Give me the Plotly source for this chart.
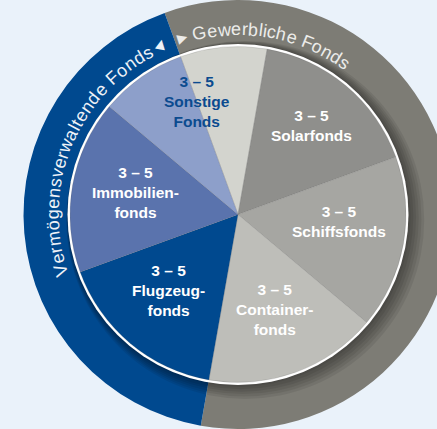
import math
import plotly.graph_objects as go

# ---------------- data ----------------
segmente = ["Sonstige Fonds (gewerblich)", "Solarfonds", "Schiffsfonds", "Containerfonds",
            "Flugzeugfonds", "Immobilienfonds", "Sonstige Fonds (vermögensverwaltend)"]
anteile = [1, 2, 2, 2, 2, 2, 1]
gruppen = ["Gewerbliche Fonds", "Gewerbliche Fonds", "Gewerbliche Fonds", "Gewerbliche Fonds",
           "Vermögensverwaltende Fonds", "Vermögensverwaltende Fonds", "Vermögensverwaltende Fonds"]
ring_kategorien = ["Gewerbliche Fonds", "Vermögensverwaltende Fonds"]
ring_werte = [sum(a for a, g in zip(anteile, gruppen) if g == k) for k in ring_kategorien]

laufzeit = "3 – 5"
label_namen = ["Sonstige<br>Fonds", "Solarfonds", "Schiffsfonds", "Container-<br>fonds",
               "Flugzeug-<br>fonds", "Immobilien-<br>fonds"]

# ---------------- style ----------------
W, H = 476, 429
CX, CY = 238, 214.5
R_RING = 214.5
R_WHITE = 170.5
R_PIE = 168
START = -20  # degrees clockwise from 12 o'clock

seg_farben = ["#d3d4ce", "#8f8f8c", "#a6a6a2", "#bebeb9", "#00498f", "#5a73ad", "#8d9fca"]
ring_farben = ["#7d7c75", "#00498f"]
BG = "#eaf2fa"


def dom(cx, cy, r):
    return dict(x=[(cx - r) / W, (cx + r) / W], y=[1 - (cy + r) / H, 1 - (cy - r) / H])


def to_paper(theta, r):
    t = math.radians(theta)
    sx = CX + r * math.sin(t)
    sy = CY - r * math.cos(t)
    return sx / W, 1 - sy / H


fig = go.Figure()

# outer ring
fig.add_trace(go.Pie(values=ring_werte, labels=ring_kategorien, sort=False, direction="clockwise",
                     rotation=START, hole=0.74, marker=dict(colors=ring_farben),
                     textinfo="none", hoverinfo="skip", domain=dom(CX, CY, R_RING)))

# soft shadow of the inner disc (toward bottom-right)
for k in [1.5, 3, 4.5, 6, 7.5, 9]:
    fig.add_trace(go.Pie(values=[1], labels=["s"], sort=False, marker=dict(colors=["rgba(0,0,0,0.075)"]),
                         textinfo="none", hoverinfo="skip",
                         domain=dom(CX + 0.8 * k, CY + 0.6 * k, R_WHITE + k - 0.5)))

# white rim
fig.add_trace(go.Pie(values=[1], labels=["w"], sort=False, marker=dict(colors=["#ffffff"]),
                     textinfo="none", hoverinfo="skip", domain=dom(CX, CY, R_WHITE)))

# inner pie
fig.add_trace(go.Pie(values=anteile, labels=segmente, sort=False, direction="clockwise",
                     rotation=START, marker=dict(colors=seg_farben,
                                                 line=dict(color="rgba(80,80,80,0.25)", width=0.7)),
                     textinfo="none", hoverinfo="skip", domain=dom(CX, CY, R_PIE)))

# ---------------- slice labels ----------------
total = sum(anteile)
bounds = [START]
for a in anteile:
    bounds.append(bounds[-1] + 360 * a / total)
mids = [(bounds[i] + bounds[i + 1]) / 2 for i in range(len(anteile))]
# label angles: Sonstige label sits on the split of its two halves
label_winkel = [bounds[0], mids[1], mids[2], mids[3], mids[4], mids[5]]
label_off = [0.1, -0.4, -5.8, -1.2, 2.8, 2.3]
label_r = [120.7, 116, 101.3, 102.4, 103, 105.4]
label_col = ["#0b4b8f", "white", "white", "white", "white", "white"]

for name, ang, off, r, col in zip(label_namen, label_winkel, label_off, label_r, label_col):
    x, y = to_paper(ang + off, r)
    fig.add_annotation(x=x, y=y, xref="paper", yref="paper", showarrow=False,
                       text=f"{laufzeit}<br>{name}", align="center",
                       xanchor="center", yanchor="middle",
                       font=dict(family="Liberation Sans, Arial, sans-serif", size=15.5,
                                 color=col, weight="bold"))

# ---------------- curved ring text ----------------
CW = {"G": 778, "e": 556, "w": 722, "r": 333, "b": 556, "l": 222, "i": 222, "c": 500, "h": 556,
      " ": 278, "F": 611, "o": 556, "n": 556, "d": 556, "s": 500, "V": 667, "m": 833, "ö": 556,
      "g": 556, "v": 500, "a": 556, "t": 278}


def curved(text, a0, a1, r, color):
    tot = sum(CW[c] for c in text)
    k = (a1 - a0) / tot
    acc = 0
    for c in text:
        w = CW[c]
        ang = a0 + (acc + w / 2) * k
        acc += w
        if c == " ":
            continue
        x, y = to_paper(ang, r)
        fig.add_annotation(x=x, y=y, xref="paper", yref="paper", showarrow=False, text=c,
                           textangle=ang, xanchor="center", yanchor="middle",
                           font=dict(family="Liberation Sans, Arial, sans-serif", size=18,
                                     color=color))


R_TEXT = 185.5
curved(ring_kategorien[0], -14.3, 36.5, R_TEXT, "#ececea")
curved(ring_kategorien[1], -109.5, -27.7, R_TEXT, "#eef2f8")

for sym, ang, r, rot, col in [("▶", -17.6, 186, -17.6, "#ececea"), ("▲", -24.2, 188, 10, "#eef2f8")]:
    x, y = to_paper(ang, r)
    fig.add_annotation(x=x, y=y, xref="paper", yref="paper", showarrow=False, text=sym,
                       textangle=rot, xanchor="center", yanchor="middle",
                       font=dict(family="DejaVu Sans", size=13, color=col))

fig.update_layout(width=W, height=H, margin=dict(l=0, r=0, t=0, b=0),
                  paper_bgcolor=BG, plot_bgcolor=BG, showlegend=False)

fig.write_html("out.html", config={"displayModeBar": False},
               post_script="document.body.style.margin='0';document.body.style.overflow='hidden';")
